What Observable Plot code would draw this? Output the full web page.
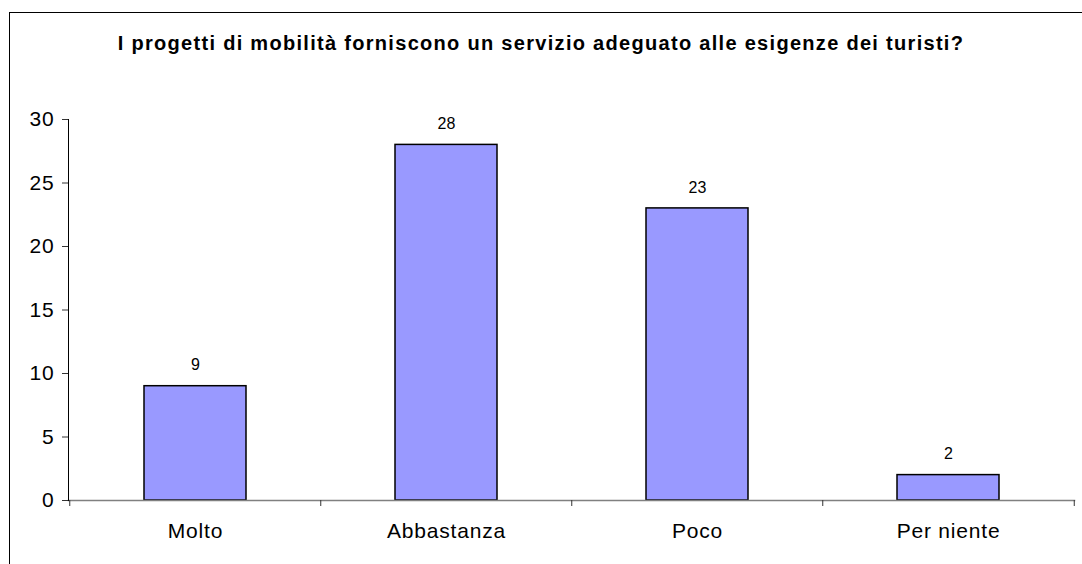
<!DOCTYPE html>
<html>
<head>
<meta charset="utf-8">
<script src="https://cdn.jsdelivr.net/npm/d3@7"></script>
<script src="https://cdn.jsdelivr.net/npm/@observablehq/plot@0.6"></script>
<style>
  html, body { margin: 0; padding: 0; background: #fff; overflow: hidden; width: 1082px; height: 564px; }
  body { font-family: "Liberation Sans", Arial, sans-serif; position: relative; }
  #border { position: absolute; left: 9px; top: 12px; width: 1200px; height: 700px; border-left: 1px solid #000; border-top: 1px solid #000; }
  #title { position: relative; box-sizing: border-box; height: 80px; padding-top: 33px; text-align: center; font-weight: bold; font-size: 20px; line-height: 20px; letter-spacing: 1.3px; color: #000; }
  #chart { position: relative; }
  #chart svg { display: block; }
  #chart svg g[aria-label="y-axis tick label"] text,
  #chart svg g[aria-label="x-axis tick label"] text { letter-spacing: 0.8px; }
</style>
</head>
<body>
<div id="border"></div>
<div id="title">I progetti di mobilità forniscono un servizio adeguato alle esigenze dei turisti?</div>
<div id="chart"></div>
<script>
const categories = ["Molto", "Abbastanza", "Poco", "Per niente"];
const values = [9, 28, 23, 2];
const yTicks = [0, 5, 10, 15, 20, 25, 30];

const data = categories.map((c, i) => ({cat: c, value: values[i]}));

const W = 1082, H = 484, mL = 68, mR = 8;
const step = (W - mL - mR) / categories.length;

const chart = Plot.plot({
  width: W,
  height: H,
  marginLeft: mL,
  marginRight: mR,
  marginTop: 39,
  marginBottom: 64,
  style: {fontFamily: '"Liberation Sans", Arial, sans-serif', color: "#000", background: "transparent"},
  x: {domain: categories, paddingInner: 0.595, paddingOuter: 0.2975, label: null},
  y: {domain: [0, 30], label: null},
  marks: [
    Plot.barY(data, {x: "cat", y: "value", fill: "#9999FF", stroke: "#000", strokeWidth: 1.5}),
    Plot.frame({anchor: "bottom", stroke: "#808080", strokeWidth: 1.5}),
    Plot.frame({anchor: "left", stroke: "#000", strokeWidth: 1}),
    Plot.ruleX(categories, {x: d => d, dx: -step / 2, y1: 0, y2: 0, insetBottom: -6, stroke: "#333"}),
    Plot.ruleX(categories.slice(-1), {x: d => d, dx: step / 2, y1: 0, y2: 0, insetBottom: -6, stroke: "#333"}),
    Plot.axisY({ticks: yTicks, tickSize: 6, tickPadding: 8, fontSize: 21, stroke: "#333", label: null}),
    Plot.axisX({tickSize: 0, tickPadding: 23, fontSize: 21, label: null}),
    Plot.text(data, {x: "cat", y: "value", text: d => String(d.value), dy: -21, fontSize: 16, fill: "#000"})
  ]
});
document.getElementById("chart").appendChild(chart);
</script>
</body>
</html>
